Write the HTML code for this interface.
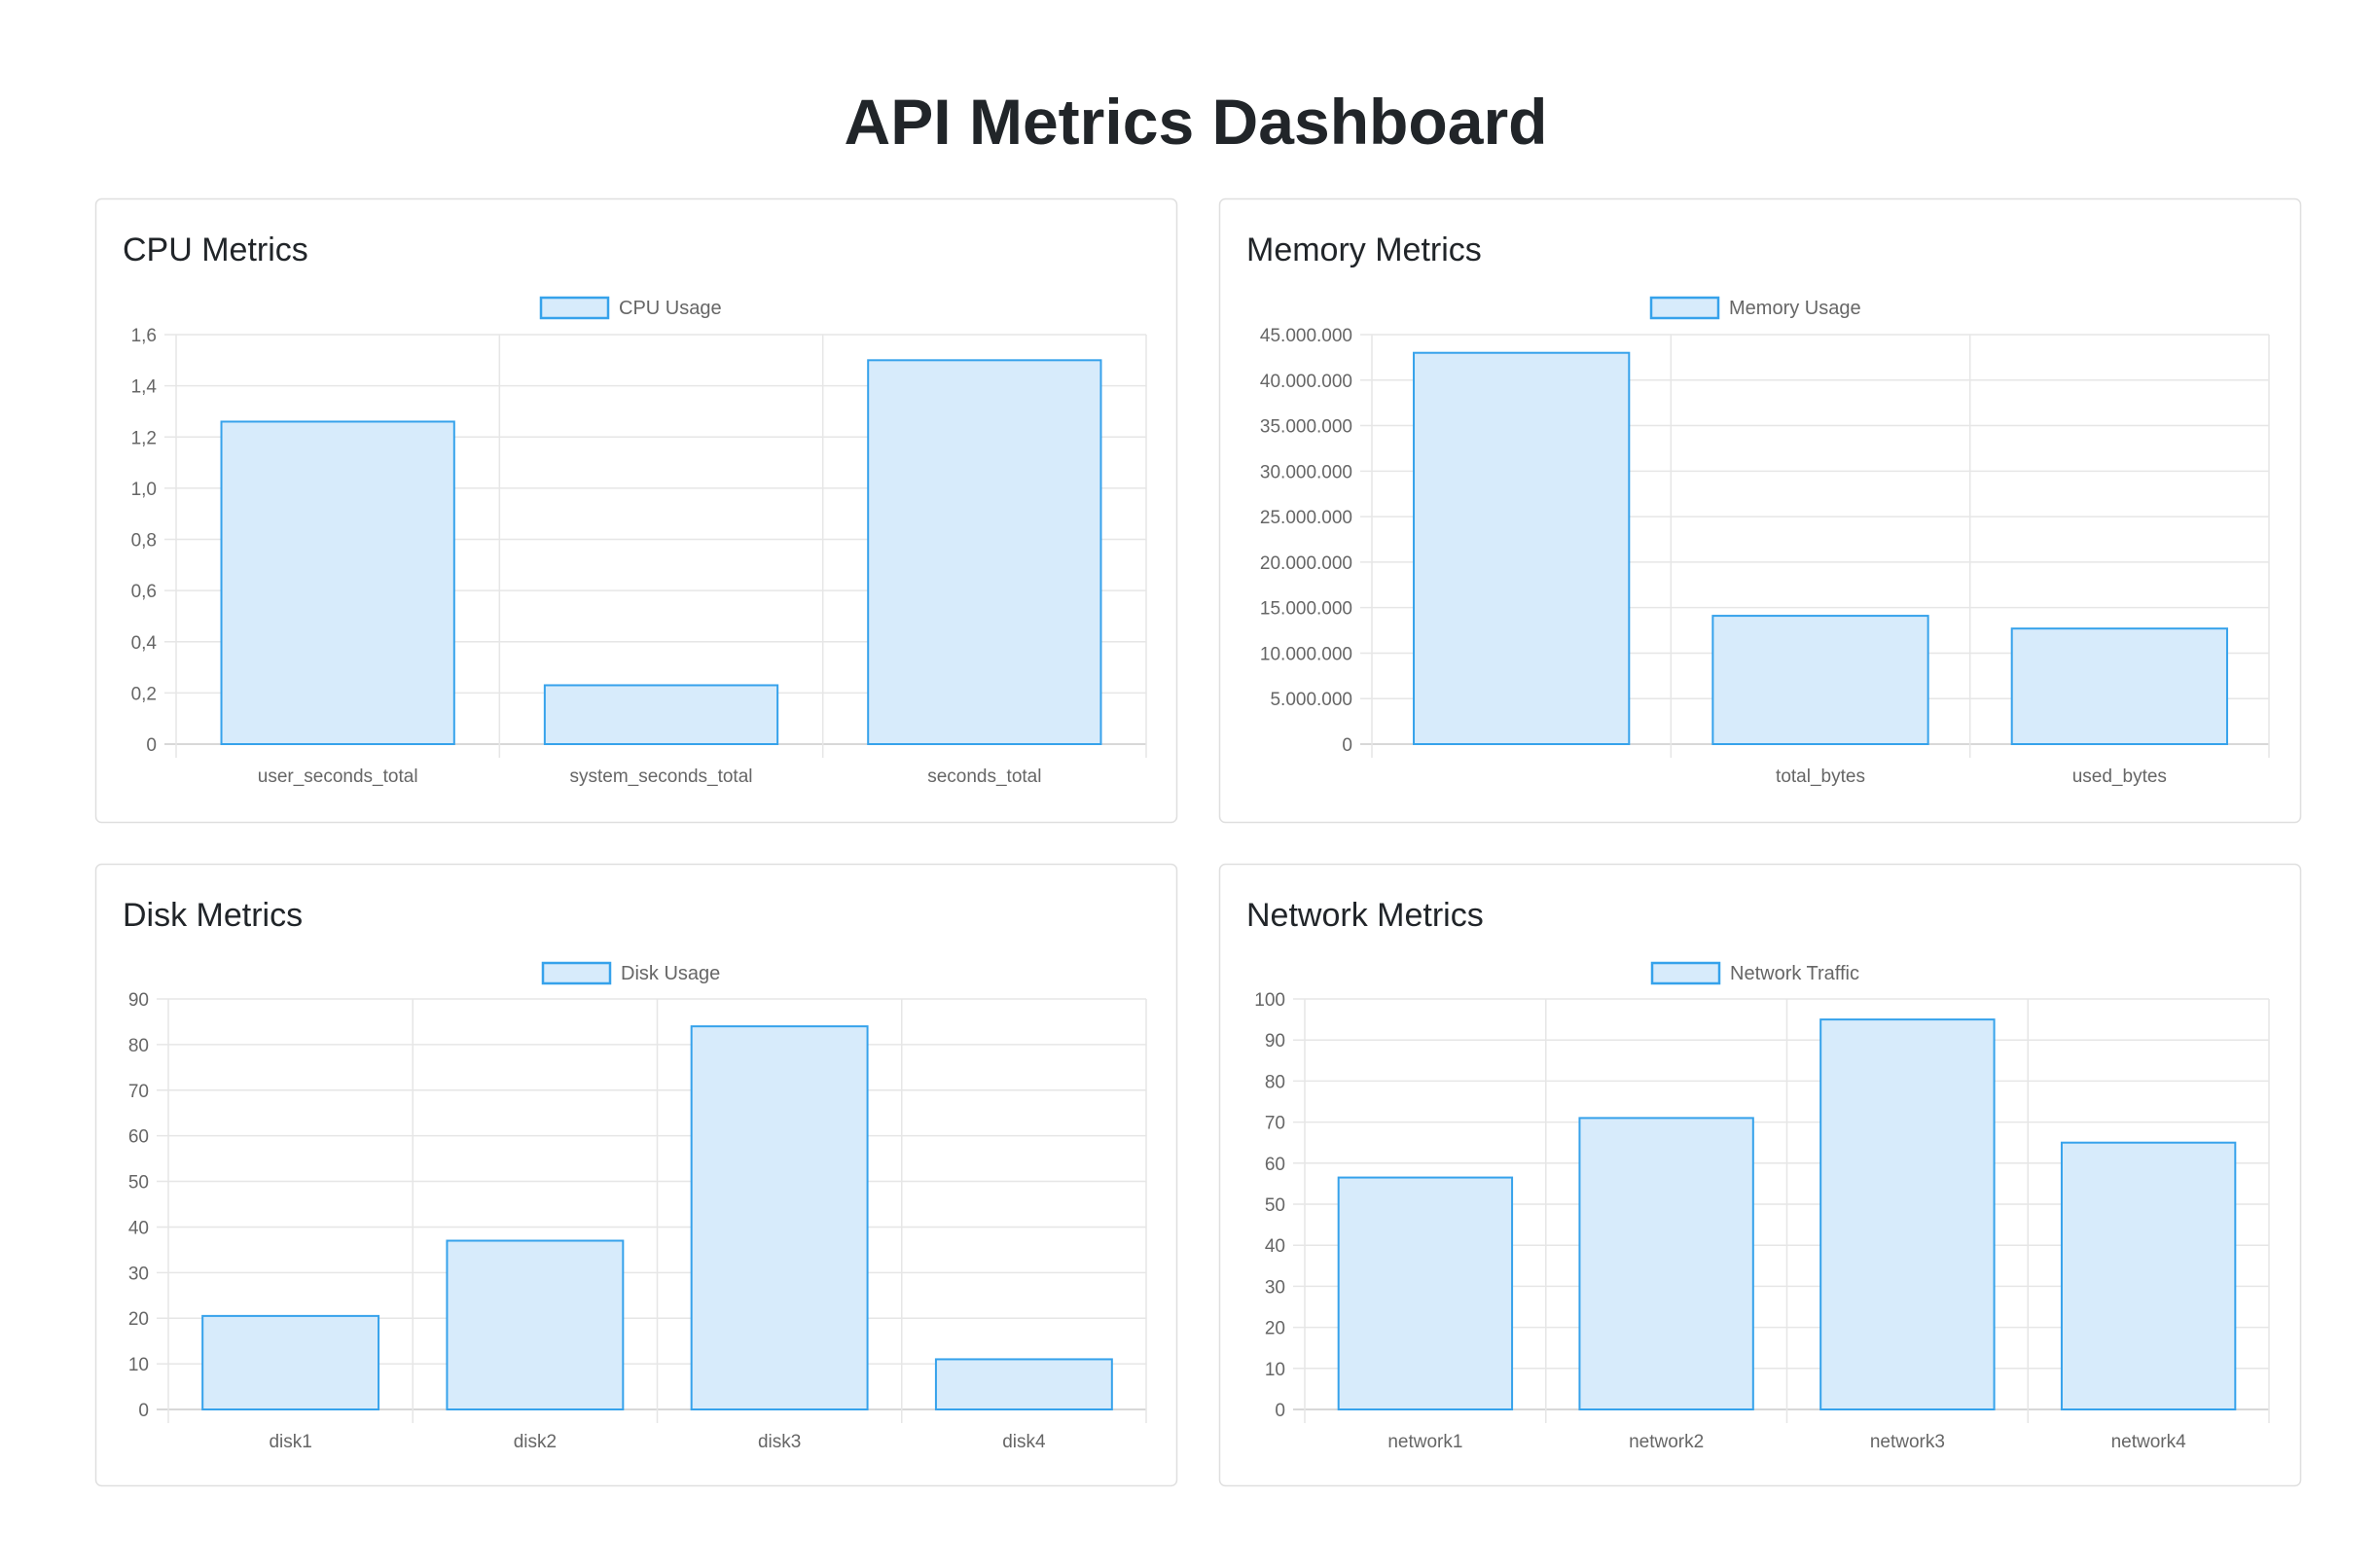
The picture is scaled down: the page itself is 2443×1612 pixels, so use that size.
<!DOCTYPE html>
<html><head><meta charset="utf-8">
<style>
html,body{margin:0;padding:0;background:#fff;}
svg{display:block;font-family:"Liberation Sans",sans-serif;}
</style></head>
<body>
<svg id="s" width="2443" height="1612" viewBox="0 0 2443 1612" xmlns="http://www.w3.org/2000/svg">
<text x="1229" y="148" text-anchor="middle" font-size="66" font-weight="bold" fill="#212529" textLength="723" lengthAdjust="spacingAndGlyphs">API Metrics Dashboard</text>
</svg>
<script>
const s=document.getElementById('s');let h='';
function card(x,y,w,hh,title,leg,legX){
 h+=`<rect x="${x}.5" y="${y}.5" width="${w}" height="${hh}" rx="6" fill="#fff" stroke="#dfdfdf" stroke-width="1.5"/>`;
 h+=`<text x="${x+28}" y="${y+64}" font-size="34" fill="#212529">${title}</text>`;
 h+=`<rect x="${legX}" y="${y+102}" width="69" height="21" fill="#d7ebfb" stroke="#36a2eb" stroke-width="2.5"/>`;
 h+=`<text x="${legX+80}" y="${y+119}" font-size="20" fill="#666">${leg}</text>`;
}
function chart(ax,right,top,zero,max,step,labels,vals,fmt){
 const n=labels.length,cw=(right-ax)/n;
 for(let v=0;v<=max+1e-9;v+=step){
  const y=zero-(v/max)*(zero-top);
  h+=`<line x1="${ax-12}" x2="${right}" y1="${y}" y2="${y}" stroke="${v==0?'#ccc':'#e6e6e6'}" stroke-width="1.5"/>`;
  h+=`<text x="${ax-20}" y="${y+7}" font-size="19" fill="#666" text-anchor="end">${fmt(v)}</text>`;
 }
 for(let i=0;i<=n;i++){const x=ax+i*cw;
  h+=`<line x1="${x}" x2="${x}" y1="${top}" y2="${zero+14}" stroke="#e6e6e6" stroke-width="1.5"/>`;}
 for(let i=0;i<n;i++){
  const bw=cw*0.72,bx=ax+i*cw+(cw-bw)/2,by=zero-(vals[i]/max)*(zero-top);
  h+=`<rect x="${bx}" y="${by}" width="${bw}" height="${zero-by}" fill="#d7ebfb" stroke="#36a2eb" stroke-width="2"/>`;
  h+=`<text x="${ax+i*cw+cw/2}" y="${zero+39}" font-size="19" fill="#666" text-anchor="middle">${labels[i]}</text>`;
 }
}
card(98,204,1111,641,'CPU Metrics','CPU Usage',556);
card(1253,204,1111,641,'Memory Metrics','Memory Usage',1697);
card(98,888,1111,639,'Disk Metrics','Disk Usage',558);
card(1253,888,1111,639,'Network Metrics','Network Traffic',1698);
chart(181,1178,344,765,1.6,0.2,['user_seconds_total','system_seconds_total','seconds_total'],[1.26,0.23,1.5],v=>v<1e-9?'0':v.toFixed(1).replace('.',','));
chart(1410,2332,344,765,45000000,5000000,['','total_bytes','used_bytes'],[43000000,14100000,12700000],v=>Math.round(v).toString().replace(/\B(?=(\d{3})+(?!\d))/g,'.'));
chart(173,1178,1027,1449,90,10,['disk1','disk2','disk3','disk4'],[20.5,37,84,11],v=>String(Math.round(v)));
chart(1341,2332,1027,1449,100,10,['network1','network2','network3','network4'],[56.5,71,95,65],v=>String(Math.round(v)));
s.insertAdjacentHTML('beforeend',h);
</script>
</body></html>
